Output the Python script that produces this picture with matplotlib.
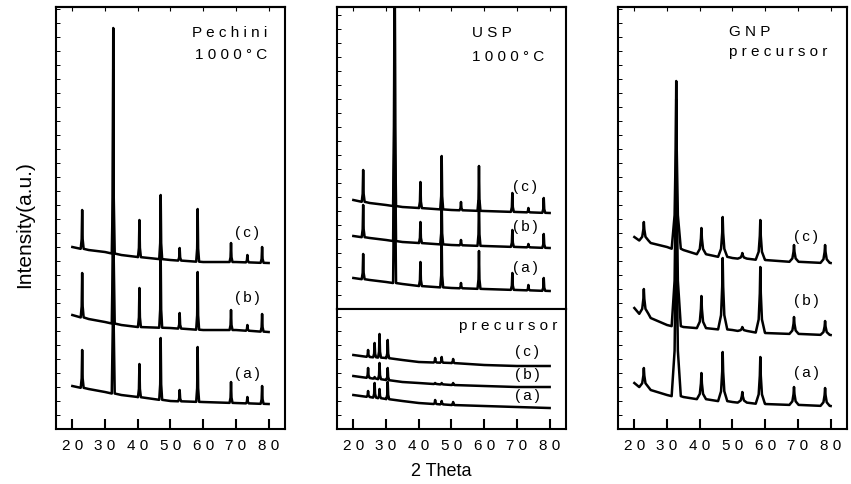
import numpy as np
import matplotlib
matplotlib.use('Agg')
import matplotlib.pyplot as plt

plt.rcParams['font.family'] = ['Liberation Sans', 'DejaVu Sans']

# baseline knots (2 theta) shared by all patterns
knots = [20, 25, 30, 35, 40, 50, 60, 70, 80]

# --- Pechini 1000C
pech_peaks = [23.0, 32.5, 40.5, 47.0, 52.8, 58.3, 68.5, 73.5, 78.0]
pech_base_a = [43, 40, 37, 34, 32, 28, 27, 26, 25]
pech_base_b = [114, 110, 107, 104, 102, 101, 99, 99, 97]
pech_base_c = [182, 179, 177, 174, 172, 169, 167, 167, 166]
pech_top_a = [79, 300, 65, 91, 39, 82, 47, 32, 43]
pech_top_b = [156, 360, 141, 174, 116, 157, 119, 104, 115]
pech_top_c = [219, 401, 209, 234, 181, 220, 186, 174, 182]

# --- USP 1000C
usp_peaks = [23.0, 32.6, 40.5, 47.0, 52.9, 58.4, 68.6, 73.5, 78.2]
usp_base_a = [31, 29, 27, 25, 23, 21, 20, 19, 18]
usp_base_b = [73, 71, 69, 67, 66, 64, 63, 62, 61]
usp_base_c = [109, 106, 104, 102, 101, 99, 98, 97, 96]
usp_top_a = [55, 420, 47, 69, 26, 58, 36, 24, 31]
usp_top_b = [104, 420, 87, 109, 69, 109, 79, 65, 75]
usp_top_c = [139, 420, 127, 153, 107, 143, 116, 101, 111]

# --- USP precursor
prec_peaks = [24.5, 26.5, 28.0, 30.5, 45.0, 47.0, 50.5]
prec_base_a = [34, 32, 30, 28, 26, 24, 23, 22, 21]
prec_base_b = [53, 51, 49, 47, 46, 44, 43, 42, 42]
prec_base_c = [74, 72, 71, 69, 67, 66, 64, 63, 63]
prec_top_a = [38, 46, 40, 47, 29, 28, 27]
prec_top_b = [61, 52, 66, 61, 46, 46, 46]
prec_top_c = [79, 86, 95, 89, 71, 72, 70]

# --- GNP precursor
gnp_peaks = [22.9, 32.8, 40.5, 47.0, 53.0, 58.5, 68.8, 78.3]
gnp_base_a = [46, 39, 34, 32, 30, 27, 25, 24, 23]
gnp_base_b = [121, 111, 104, 102, 101, 99, 96, 95, 94]
gnp_base_c = [192, 186, 182, 179, 175, 171, 169, 167, 166]
gnp_top_a = [61, 260, 56, 77, 37, 72, 42, 41]
gnp_top_b = [140, 330, 133, 171, 102, 162, 112, 108]
gnp_top_c = [207, 348, 201, 212, 176, 209, 184, 184]

xticks = [20, 30, 40, 50, 60, 70, 80]
xticklabels = ['2 0', '3 0', '4 0', '5 0', '6 0', '7 0', '8 0']

# peak profiles: (offset in 2theta, fraction of height)
sharp = [(-0.45, 0.0), (-0.15, 0.25), (0.0, 1.0), (0.15, 0.25), (0.45, 0.0)]
broad = [(-1.4, 0.0), (-0.5, 0.2), (-0.15, 0.6), (0.0, 1.0),
         (0.15, 0.6), (0.5, 0.2), (1.4, 0.0)]


def trace(base, peaks, tops, shape):
    lo, hi = shape[0][0], shape[-1][0]
    xs, ys = [], []
    for k, b in zip(knots, base):
        if not any(p + lo <= k <= p + hi for p in peaks):
            xs.append(k)
            ys.append(b)
    for p, h in zip(peaks, tops):
        b = np.interp(p, knots, base)
        for dx, f in shape:
            xs.append(p + dx)
            ys.append(b + f * (h - b))
    order = np.argsort(xs)
    return np.array(xs)[order], np.array(ys)[order]


def style(ax, ymax, bottom=True, top=True):
    ax.set_xlim(15, 85)
    ax.set_ylim(0, ymax)
    for s in ax.spines.values():
        s.set_linewidth(1.5)
    ax.set_xticks(xticks)
    if bottom:
        ax.set_xticklabels(xticklabels)
        ax.tick_params(axis='x', direction='in', length=7, width=1.5,
                       pad=7, labelsize=11)
    else:
        ax.tick_params(axis='x', bottom=False, labelbottom=False)
    ax.set_yticks(np.arange(14, ymax, 14))
    ax.tick_params(axis='y', direction='in', length=3, width=0.7,
                   labelleft=False)
    if top:
        sec = ax.secondary_xaxis('top')
        sec.set_xticks(xticks)
        sec.tick_params(axis='x', direction='in', length=3, width=0.8,
                        labeltop=False, labelbottom=False)
        sec.spines['top'].set_linewidth(1.5)


fig = plt.figure(figsize=(8.51, 4.84), dpi=100)
ax1 = fig.add_axes([0.0658, 0.1136, 0.2691, 0.8719])
ax2t = fig.add_axes([0.396, 0.3616, 0.2691, 0.6239])
ax2b = fig.add_axes([0.396, 0.1136, 0.2691, 0.248])
ax3 = fig.add_axes([0.7262, 0.1136, 0.2691, 0.8719])

lw = 1.8
for base, top in [(pech_base_a, pech_top_a), (pech_base_b, pech_top_b),
                  (pech_base_c, pech_top_c)]:
    ax1.plot(*trace(base, pech_peaks, top, sharp), color='black', lw=lw)
for base, top in [(usp_base_a, usp_top_a), (usp_base_b, usp_top_b),
                  (usp_base_c, usp_top_c)]:
    ax2t.plot(*trace(base, usp_peaks, top, sharp), color='black', lw=lw)
for base, top in [(prec_base_a, prec_top_a), (prec_base_b, prec_top_b),
                  (prec_base_c, prec_top_c)]:
    ax2b.plot(*trace(base, prec_peaks, top, sharp), color='black', lw=lw)
for base, top in [(gnp_base_a, gnp_top_a), (gnp_base_b, gnp_top_b),
                  (gnp_base_c, gnp_top_c)]:
    ax3.plot(*trace(base, gnp_peaks, top, broad), color='black', lw=lw)

style(ax1, 422)
style(ax2t, 302, bottom=False)
style(ax2b, 120, top=False)
style(ax3, 422)

lab = dict(fontsize=11, ha='center', va='center')
for ax, x, ys in [(ax1, 73.5, (55, 131, 196)),
                  (ax2t, 72.6, (41, 82, 122)),
                  (ax2b, 73.2, (33, 54, 77)),
                  (ax3, 72.6, (56, 128, 192))]:
    for t, y in zip(['(\u2009a\u2009)', '(\u2009b\u2009)', '(\u2009c\u2009)'], ys):
        ax.text(x, y, t, **lab)

tit = dict(fontsize=11, va='center')
ax1.text(0.921, 0.938, 'P e c h i n i', transform=ax1.transAxes, ha='right', **tit)
ax1.text(0.921, 0.886, '1 0 0 0 \u00b0 C', transform=ax1.transAxes, ha='right', **tit)
ax2t.text(0.59, 0.914, 'U S P', transform=ax2t.transAxes, ha='left', **tit)
ax2t.text(0.59, 0.834, '1 0 0 0 \u00b0 C', transform=ax2t.transAxes, ha='left', **tit)
ax2b.text(0.961, 0.858, 'p r e c u r s o r', transform=ax2b.transAxes, ha='right', **tit)
ax3.text(0.485, 0.941, 'G N P', transform=ax3.transAxes, ha='left', **tit)
ax3.text(0.485, 0.893, 'p r e c u r s o r', transform=ax3.transAxes, ha='left', **tit)

fig.text(0.519, 0.025, '2 Theta', fontsize=13, ha='center', va='center')
fig.text(0.029, 0.535, 'Intensity(a.u.)', fontsize=15, rotation=90,
         ha='center', va='center')

fig.savefig('out.png', dpi=100)
